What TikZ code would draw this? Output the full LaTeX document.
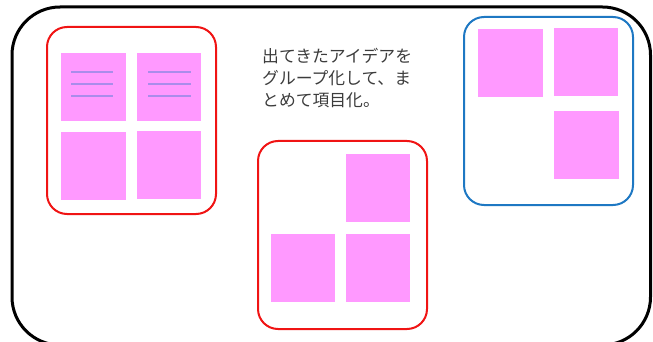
\documentclass[tikz,border=0pt]{standalone}
\usepackage{fontspec}
\newfontfamily\cjk{Noto Sans CJK JP}
\definecolor{stickyc}{RGB}{255,153,255}
\definecolor{linec}{RGB}{170,140,235}
\definecolor{grpred}{RGB}{240,20,20}
\definecolor{grpblue}{RGB}{30,120,195}
\definecolor{txtc}{RGB}{60,60,60}
\begin{document}
\begin{tikzpicture}[x=1pt,y=-1pt,
  sticky/.style={fill=stickyc},
  noteline/.style={draw=linec,line width=1.3pt},
  redgroup/.style={draw=grpred,line width=2pt,rounded corners=20pt},
  bluegroup/.style={draw=grpblue,line width=2pt,rounded corners=20pt},
  outer/.style={draw=black,line width=3pt,rounded corners=48pt}]
\useasboundingbox (0,0) rectangle (653,342);
\begin{scope}
\clip (0,0) rectangle (653,342);
\draw[outer] (12,7) rectangle (650.5,345);
\end{scope}
% group 1
\draw[redgroup] (47,27) rectangle (216,214);
\path[sticky] (61,53) rectangle (126,121);
\path[sticky] (137,53) rectangle (201,121);
\path[sticky] (61,132) rectangle (126,200);
\path[sticky] (137,131) rectangle (201,199);
\foreach \yy in {72,84,96}{
  \draw[noteline] (71,\yy) -- (113,\yy);
  \draw[noteline] (148,\yy) -- (191,\yy);
}
% group 2
\draw[redgroup] (258,141) rectangle (427,329);
\path[sticky] (346,154) rectangle (410,222);
\path[sticky] (271,234) rectangle (335,302);
\path[sticky] (346,234) rectangle (410,302);
% group 3
\draw[bluegroup] (464,17) rectangle (633,205);
\path[sticky] (478,29) rectangle (543,97);
\path[sticky] (554,28) rectangle (618,96);
\path[sticky] (554,111) rectangle (619,179);
% text
\node[anchor=north west,inner sep=0pt,align=left,text=txtc,
  font=\cjk\fontsize{16.8}{22}\selectfont] (caption) at (262,48)
  {出てきたアイデアを\\グループ化して、ま\\とめて項目化。};
\end{tikzpicture}
\end{document}
